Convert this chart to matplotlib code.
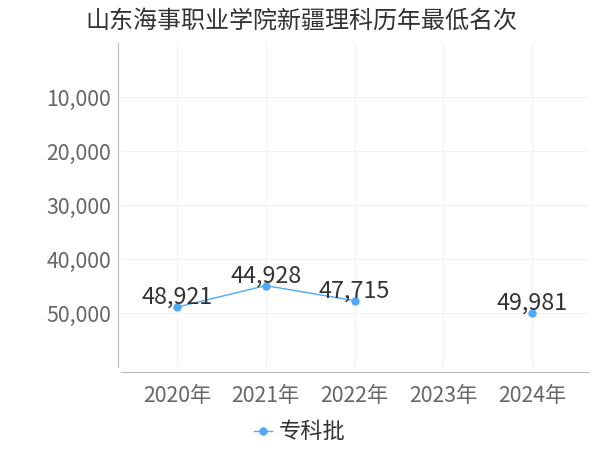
import matplotlib
matplotlib.use("Agg")
import matplotlib.pyplot as plt
import numpy as np

plt.rcParams['font.family'] = ['Noto Sans CJK SC', 'DejaVu Sans']

title = "山东海事职业学院新疆理科历年最低名次"
years = ["2020年", "2021年", "2022年", "2023年", "2024年"]
values = [48921, 44928, 47715, None, 49981]
series_name = "专科批"
yticks = [10000, 20000, 30000, 40000, 50000]

color = "#4fa8f9"

fig = plt.figure(figsize=(6, 4.5), dpi=100)
ax = fig.add_axes([121/600, 1-367/450, (588-121)/600, (367-43)/450])

x = np.arange(len(years))
y = np.array([np.nan if v is None else v for v in values], dtype=float)
ax.plot(x, y, color=color, lw=1.0, marker='o', markersize=5, label=series_name, zorder=3)
for xi, v in zip(x, values):
    if v is None:
        continue
    ax.annotate(f"{v:,}", (xi, v), xytext=(0, 2.5), textcoords='offset points',
                ha='center', va='baseline', fontsize=16.8, color='#333333', zorder=4)

ax.set_xlim(-0.63, 4.63)
ax.set_ylim(60000, 0)
ax.set_xticks(x)
ax.set_xticklabels(years)
ax.set_yticks(yticks)
ax.set_yticklabels([f"{t:,}" for t in yticks])
ax.tick_params(axis='both', length=0, labelsize=15.3, labelcolor='#666666')
ax.tick_params(axis='x', pad=9)
ax.tick_params(axis='y', pad=5)

ax.grid(True, color='#f2f2f2', lw=0.8)
ax.set_axisbelow(True)
for s in ['top', 'right']:
    ax.spines[s].set_visible(False)
ax.spines['left'].set_color('#bbbbbb')
ax.spines['bottom'].set_color('#bbbbbb')
ax.spines['left'].set_position(('outward', 2.2))
ax.spines['bottom'].set_position(('outward', 3.6))

fig.text(0.503, 0.955, title, ha='center', va='center', fontsize=17.3, color='#333333')

fig.legend(loc='center', bbox_to_anchor=(0.5, 0.04), frameon=False, fontsize=16,
           handlelength=0.8, handletextpad=0.3, labelcolor='#333333')

fig.savefig("out.png", dpi=100)
